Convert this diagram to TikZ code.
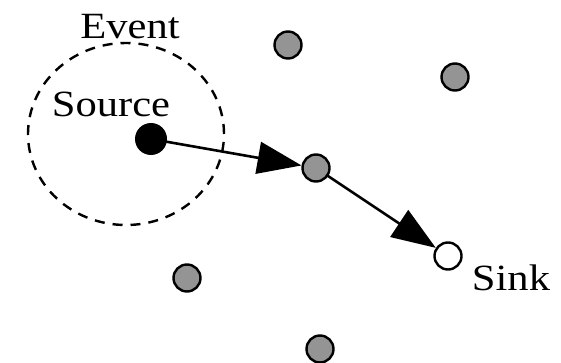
\documentclass[tikz,border=0pt]{standalone}
\usepackage{fontspec}
\setmainfont{Liberation Serif}
\usetikzlibrary{arrows.meta,shapes.geometric}
\begin{document}
\begin{tikzpicture}[x=1pt,y=-1pt,
  sensor/.style={circle,draw=black,fill=black!42,line width=2.4pt,minimum size=27pt,inner sep=0pt},
  sourcenode/.style={circle,fill=black,minimum size=32pt,inner sep=0pt},
  sinknode/.style={circle,draw=black,fill=white,line width=2.4pt,minimum size=27pt,inner sep=0pt},
  lbl/.style={font=\fontsize{37}{40}\selectfont,xscale=1.15,inner sep=0pt},
  flow/.style={line width=2.6pt,-{Triangle[length=44pt,width=32pt]},shorten <=-1pt}
]
\useasboundingbox (0,0) rectangle (561,363);
\node[draw=black,dash pattern=on 10pt off 8pt,line width=2.4pt,ellipse,minimum width=196pt,minimum height=182pt,inner sep=0pt] (region) at (126,134) {};
\node[lbl] (event) at (130,27) {Event};
\node[lbl] (srclbl) at (111,104) {Source};
\node[lbl] (sinklbl) at (511,278) {Sink};
\node[sourcenode] (src) at (151,139) {};
\node[sensor] (n1) at (288,45) {};
\node[sensor] (n2) at (455,77) {};
\node[sensor] (n3) at (316,168) {};
\node[sensor] (n4) at (187,278) {};
\node[sensor] (n5) at (320,349) {};
\node[sinknode] (sink) at (448,256) {};
\draw[flow] (src) -- (n3);
\draw[flow] (n3) -- (sink);
\end{tikzpicture}
\end{document}
